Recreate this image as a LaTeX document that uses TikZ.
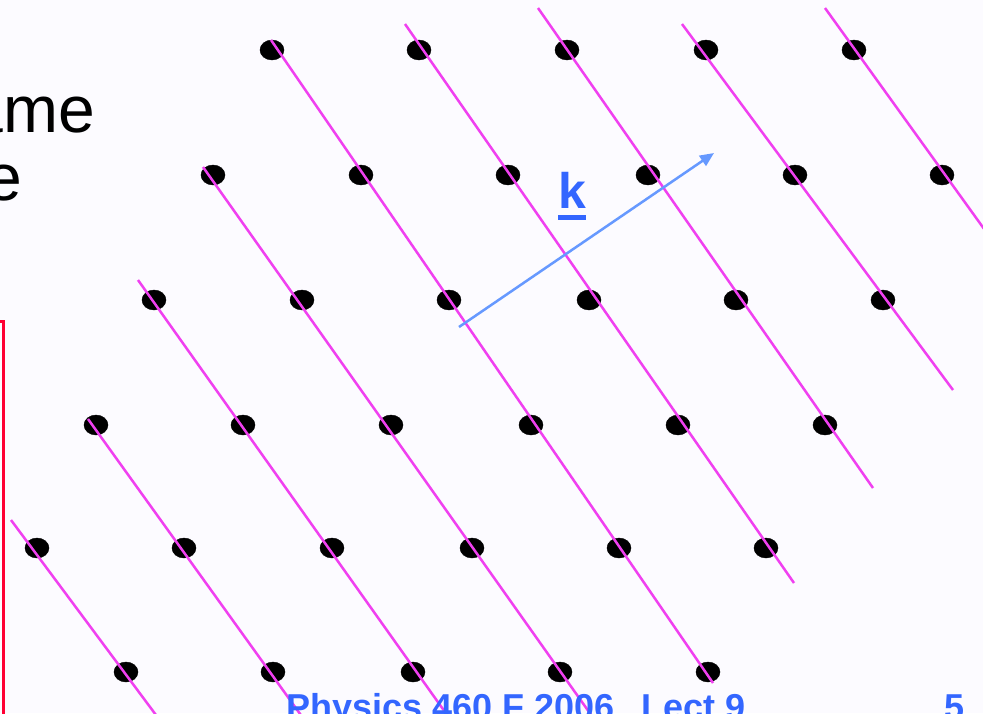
\documentclass[tikz,border=0pt]{standalone}
\usepackage{fontspec}
\setmainfont{Liberation Sans}
\usetikzlibrary{calc, arrows.meta}
\definecolor{slidebg}{RGB}{252,251,255}
\definecolor{planecol}{RGB}{240,64,240}
\definecolor{kcol}{RGB}{51,102,255}
\definecolor{arrowcol}{RGB}{102,153,255}
\definecolor{boxred}{RGB}{255,0,51}

\begin{document}
\begin{tikzpicture}[x=1pt,y=-1pt,
  plane/.style={draw=planecol, line width=2.5pt},
  latdot/.style={fill=black},
  bigtext/.style={inner sep=0pt, font=\fontsize{66}{66}\selectfont},
  foot/.style={inner sep=0pt, text=kcol, font=\fontsize{36}{36}\selectfont\bfseries},
  karrow/.style={draw=arrowcol, line width=2.5pt, -{Triangle[length=14pt,width=12pt]}}]
\useasboundingbox (0,0) rectangle (983,713);
\fill[slidebg] (0,0) rectangle (983,713);
\clip (0,0) rectangle (983,713);

% text of the slide
\node[bigtext, anchor=base east] (ame) at (95,132) {ame};
\node[bigtext, anchor=base east] (e) at (22,200) {e};
\draw[boxred, line width=3pt] (-20,321) -- (3,321) -- (3,740);

% lattice points
\draw[latdot] \foreach \x in {272,419,567,706,854} {(\x,50) ellipse (12 and 10)};
\draw[latdot] \foreach \x in {213,361,508,648,795,942} {(\x,175) ellipse (12 and 10)};
\draw[latdot] \foreach \x in {154,302,449,589,736,883} {(\x,300) ellipse (12 and 10)};
\draw[latdot] \foreach \x in {96,243,391,531,678,825} {(\x,425) ellipse (12 and 10)};
\draw[latdot] \foreach \x in {37,184,332,472,619,766} {(\x,548) ellipse (12 and 10)};
\draw[latdot] \foreach \x in {126,273,413,560,708} {(\x,672) ellipse (12 and 10)};

% lattice planes
\draw[plane] \foreach \a/\b/\c/\d in {11/520/182/750, 88/419/326/750, 138/280/472/750,
  203/167/616/750, 271/40/713/683, 405/24/794/583, 538/8/873/488,
  682/24/953/390, 825/8/1041/308} {(\a,\b) -- (\c,\d)};

% wave vector
\coordinate (kstart) at (459,327);
\coordinate (kend) at (714,153);
\draw[karrow] (kstart) -- (kend);
\node[inner sep=0pt, anchor=base west, text=kcol, font=\fontsize{50}{50}\selectfont\bfseries] (k) at (558,208) {k};
\draw[kcol, line width=5pt] ($(k.base west)+(0,9.5)$) -- ($(k.base east)+(0,9.5)$);

% footer
\node[foot, anchor=base west] (course) at (286,719) {Physics 460 F 2006\hspace{27pt}Lect 9};
\node[foot, anchor=base west] (page) at (944,719) {5};
\end{tikzpicture}
\end{document}
